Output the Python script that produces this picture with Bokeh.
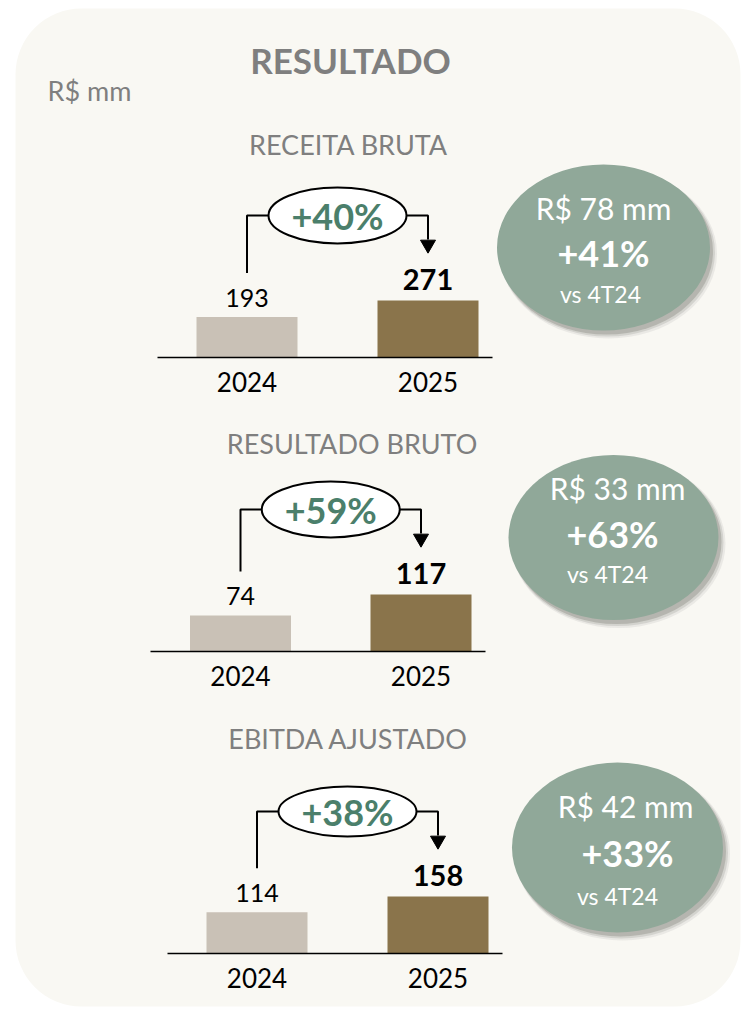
from bokeh.plotting import figure
from bokeh.models import Range1d, BoxAnnotation
from bokeh.core.properties import value
from bokeh.embed import file_html
from bokeh.resources import INLINE

# ---------------- data ----------------
sections = ["RECEITA BRUTA", "RESULTADO BRUTO", "EBITDA AJUSTADO"]
years = ["2024", "2025"]
values_2024 = [193, 74, 114]
values_2025 = [271, 117, 158]
growth_year = ["+40%", "+59%", "+38%"]
quarter_amount = ["R$ 78 mm", "R$ 33 mm", "R$ 42 mm"]
quarter_growth = ["+41%", "+63%", "+33%"]
quarter_base = ["vs 4T24", "vs 4T24", "vs 4T24"]
title = "RESULTADO"
unit = "R$ mm"

# ---------------- layout (page pixels) ----------------
W, H = 741, 1008
FONT = value("Lato")


def X(x):
    return x


def Y(y):
    return H - y


baseline_y = [357, 651, 953]
bar_centers = [(246.5, 427.5), (240, 420.5), (256.5, 437.5)]
bar_width = 101
axis_extent = [(157, 492), (150, 485), (167, 502)]
max_bar_px = 57
title_pos = [(348, 144), (351.5, 443), (348, 738)]
oval_w = 138
oval_h = [56, 56, 50]
bubble = [(603, 247, 213, 166), (613, 537, 210, 165), (617, 847, 211, 170)]
bubble_text = [
    [(603, 207), (603, 252), (600, 293)],
    [(617, 487), (612, 533), (607, 573)],
    [(625, 805), (627, 852), (617, 895)],
]

C_PANEL = "#f9f8f3"
C_GREY = "#7f7f7f"
C_2024 = "#c9c1b6"
C_2025 = "#8a744b"
C_GREEN = "#4b7f6b"
C_BUBBLE = "#90a899"

p = figure(width=W, height=H, x_range=Range1d(0, W), y_range=Range1d(0, H),
           output_backend="svg", toolbar_location=None, min_border=0)
p.axis.visible = False
p.grid.visible = False
p.outline_line_color = None
p.background_fill_color = "white"
p.border_fill_color = "white"

# rounded panel
p.add_layout(BoxAnnotation(left=X(15), right=X(740), top=Y(8), bottom=Y(1006),
                           fill_color=C_PANEL, fill_alpha=1, line_color=None,
                           border_radius=66, level="underlay"))

p.text(x=[X(350)], y=[Y(59)], text=[title], text_font=FONT, text_font_size="35px",
       text_font_style="bold", text_color=C_GREY, text_align="center", text_baseline="middle")
p.text(x=[X(47)], y=[Y(90)], text=[unit], text_font=FONT, text_font_size="27px",
       text_color=C_GREY, text_align="left", text_baseline="middle")

for k in range(3):
    v24, v25 = values_2024[k], values_2025[k]
    c24, c25 = X(bar_centers[k][0]), X(bar_centers[k][1])
    base = Y(baseline_y[k])
    px_per_unit = max_bar_px / max(v24, v25)
    rname = f"s{k}"
    # range so that 0 sits on the baseline and the largest bar spans max_bar_px
    p.extra_y_ranges[rname] = Range1d(start=-base / px_per_unit, end=(H - base) / px_per_unit)

    p.text(x=[X(title_pos[k][0])], y=[Y(title_pos[k][1])], text=[sections[k]], text_font=FONT,
           text_font_size="27px", text_color=C_GREY, text_align="center", text_baseline="middle")

    # bars
    p.vbar(x=[c24, c25], top=[v24, v25], bottom=0, width=bar_width,
           fill_color=[C_2024, C_2025], line_color=None, y_range_name=rname)
    # baseline
    p.line(x=[X(axis_extent[k][0]), X(axis_extent[k][1])], y=[0, 0], line_color="black",
           line_width=1.6, y_range_name=rname)
    # value labels
    p.text(x=[c24], y=[v24], text=[str(v24)], y_offset=-19, text_font=FONT, text_font_size="25px",
           text_color="black", text_align="center", text_baseline="middle", y_range_name=rname)
    p.text(x=[c25], y=[v25], text=[str(v25)], y_offset=-21, text_font=FONT, text_font_size="29px",
           text_font_style="bold", text_color="black", text_align="center", text_baseline="middle",
           y_range_name=rname)
    # year labels
    p.text(x=[c24, c25], y=[0, 0], text=years, y_offset=24, text_font=FONT, text_font_size="26px",
           text_color="black", text_align="center", text_baseline="middle", y_range_name=rname)

    # connector + growth oval
    yc = base + 142
    y_start = base + v24 * px_per_unit + 44
    tip = yc - 36
    p.line(x=[c24, c24, c25, c25], y=[y_start, yc, yc, tip + 12], line_color="black", line_width=2)
    p.scatter(x=[c25], y=[tip + 7], marker="inverted_triangle", size=15, fill_color="black",
              line_color="black")
    cx = (c24 + c25) / 2
    p.ellipse(x=[cx], y=[yc], width=oval_w, height=oval_h[k], fill_color="white",
              line_color="black", line_width=2)
    p.text(x=[cx], y=[yc], text=[growth_year[k]], text_font=FONT, text_font_size="36px",
           text_font_style="bold", text_color=C_GREEN, text_align="center", text_baseline="middle")

    # quarter bubble with soft shadow
    bx, by, bw, bh = bubble[k]
    for dx, dy, grow, a in [(5, 6, 4, 0.10), (4, 5, 2, 0.18), (3, 4, 0, 0.30)]:
        p.ellipse(x=[X(bx) + dx], y=[Y(by) - dy], width=bw + grow, height=bh + grow,
                  fill_color="#6f6f68", fill_alpha=a, line_color=None)
    p.ellipse(x=[X(bx)], y=[Y(by)], width=bw, height=bh, fill_color=C_BUBBLE, line_color=None)
    t = bubble_text[k]
    p.text(x=[X(t[0][0])], y=[Y(t[0][1])], text=[quarter_amount[k]], text_font=FONT,
           text_font_size="30px", text_color="white", text_align="center", text_baseline="middle")
    p.text(x=[X(t[1][0])], y=[Y(t[1][1])], text=[quarter_growth[k]], text_font=FONT,
           text_font_size="36px", text_font_style="bold", text_color="white",
           text_align="center", text_baseline="middle")
    p.text(x=[X(t[2][0])], y=[Y(t[2][1])], text=[quarter_base[k]], text_font=FONT,
           text_font_size="23px", text_color="white", text_align="center", text_baseline="middle")

open("out.html", "w").write(file_html(p, INLINE))
